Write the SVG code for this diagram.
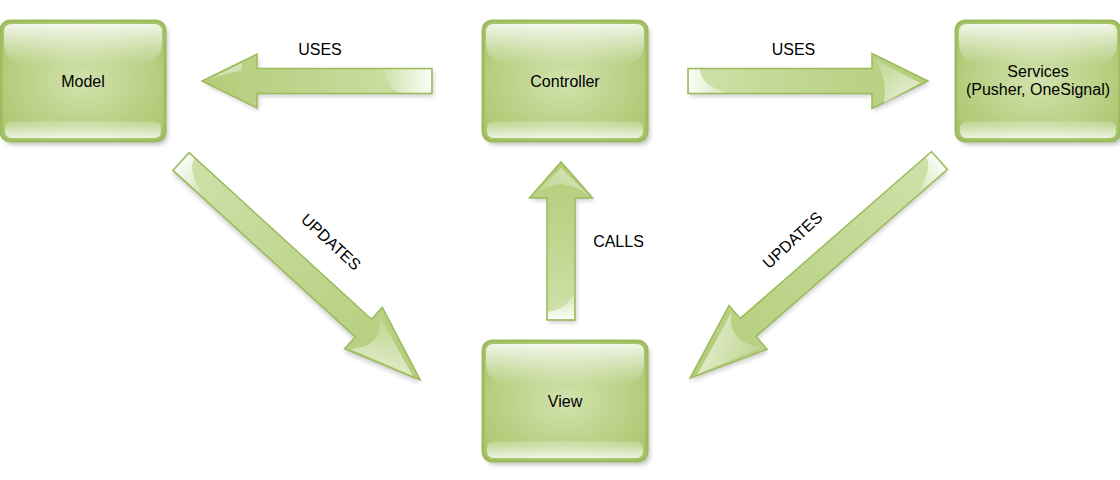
<svg xmlns="http://www.w3.org/2000/svg" xmlns:xlink="http://www.w3.org/1999/xlink" width="1120" height="480" viewBox="0 0 1120 480">
<style>
  .lbl { font-family: "Liberation Sans", Arial, sans-serif; font-size: 16px; fill: #000; text-anchor: middle; }
  .arrow { fill: url(#gArrow); stroke: #9bbb59; stroke-width: 1.5; stroke-linejoin: miter; }
  .ashadow { fill: #000; opacity: 0.18; filter: url(#blur); }
</style>
<defs>
  <filter id="blur" x="-20%" y="-20%" width="140%" height="140%">
    <feGaussianBlur stdDeviation="2"/>
  </filter>
  <radialGradient id="gBox" cx="0.5" cy="0.5" r="0.65">
    <stop offset="0" stop-color="#d2e2ad"/>
    <stop offset="1" stop-color="#a9c56b"/>
  </radialGradient>
  <linearGradient id="gTop" x1="0" y1="0" x2="0" y2="1">
    <stop offset="0" stop-color="#ffffff" stop-opacity="0.85"/>
    <stop offset="1" stop-color="#ffffff" stop-opacity="0"/>
  </linearGradient>
  <linearGradient id="gBot" x1="0" y1="0" x2="0" y2="1">
    <stop offset="0" stop-color="#ffffff" stop-opacity="0.15"/>
    <stop offset="1" stop-color="#ffffff" stop-opacity="0.8"/>
  </linearGradient>
  <linearGradient id="gArrow" x1="0" y1="0" x2="1" y2="0">
    <stop offset="0" stop-color="#cfe1ab"/>
    <stop offset="0.5" stop-color="#bfd68f"/>
    <stop offset="1" stop-color="#b3cd7a"/>
  </linearGradient>
  <linearGradient id="gTail" x1="0" y1="0" x2="1" y2="0">
    <stop offset="0" stop-color="#ffffff" stop-opacity="0.9"/>
    <stop offset="1" stop-color="#ffffff" stop-opacity="0.1"/>
  </linearGradient>
  <linearGradient id="gHead" x1="0" y1="0" x2="1" y2="1">
    <stop offset="0" stop-color="#ffffff" stop-opacity="0.1"/>
    <stop offset="1" stop-color="#ffffff" stop-opacity="0.75"/>
  </linearGradient>
  <g id="box">
    <rect x="3" y="4" width="164" height="120" rx="9" fill="#000" opacity="0.22" filter="url(#blur)"/>
    <rect x="0" y="0" width="164" height="120" rx="9" fill="url(#gBox)" stroke="#9dbb5f" stroke-width="3"/>
    <path d="M3,11 Q3,3 11,3 H153 Q161,3 161,11 V20 Q161,44 138,44 H26 Q3,44 3,20 Z" fill="url(#gTop)"/>
    <path d="M4,108 Q4,100 12,100 H152 Q160,100 160,108 V110 Q160,117 153,117 H11 Q4,117 4,110 Z" fill="url(#gBot)"/>
  </g>
</defs>

<g id="connectors">
  <!-- Controller -> Model USES -->
  <g id="arrow-uses-model" transform="translate(432,81) rotate(180)">
    <path class="ashadow" transform="translate(-2,-3)" d="M0,-12.5 H175 V-27 L230,0 L175,27 V12.5 H0 Z"/>
    <path class="arrow" d="M0,-12.5 H175 V-27 L230,0 L175,27 V12.5 H0 Z"/>
    <path d="M1,-11.5 H30 Q44,-11.5 48,11.5 H1 Z" fill="url(#gTail)"/>
    <path d="M190,18 L222,2 Q205,8 190,10 Z" fill="url(#gHead)"/>
  </g>
  <!-- Controller -> Services USES -->
  <g id="arrow-uses-services" transform="translate(688,81)">
    <path class="ashadow" transform="translate(2,3)" d="M0,-12.5 H184 V-27.5 L240,0 L184,27.5 V12.5 H0 Z"/>
    <path class="arrow" d="M0,-12.5 H184 V-27.5 L240,0 L184,27.5 V12.5 H0 Z"/>
    <path d="M1,-11.5 H12 Q14,8 45,11.5 H1 Z" fill="url(#gTail)"/>
    <path d="M186,-22 Q200,-5 196,22 L232,2 Z" fill="url(#gHead)"/>
  </g>
  <!-- View -> Controller CALLS -->
  <g id="arrow-calls" transform="translate(561,320) rotate(-90)">
    <path class="ashadow" transform="translate(-3,2)" d="M0,-14 H122 V-31.5 L158,0 L122,31.5 V14 H0 Z"/>
    <path class="arrow" d="M0,-14 H122 V-31.5 L158,0 L122,31.5 V14 H0 Z"/>
    <path d="M1,13 H28 Q12,8 8,-13 H1 Z" fill="url(#gTail)"/>
    <path d="M124,-28 Q135,-15 136,0 Q135,15 124,28 L152,0 Z" fill="url(#gHead)" opacity="0.7"/>
  </g>
  <!-- Model -> View UPDATES -->
  <g id="arrow-updates-left" transform="translate(181,161.5) rotate(42.4)">
    <path class="ashadow" transform="translate(2,3)" d="M0,-12 H247 V-28 L324,0 L247,28 V12 H0 Z"/>
    <path class="arrow" d="M0,-12 H247 V-28 L324,0 L247,28 V12 H0 Z"/>
    <path d="M1,-11 H8 Q10,2 40,11 H1 Z" fill="url(#gTail)"/>
    <path d="M250,-20 Q275,-2 252,24 L316,2 Z" fill="url(#gHead)"/>
  </g>
  <!-- Services -> View UPDATES -->
  <g id="arrow-updates-right" transform="translate(939.5,160.5) rotate(138.9)">
    <path class="ashadow" transform="translate(2,-3)" d="M0,-12 H254 V-29 L331,0 L254,29 V12 H0 Z"/>
    <path class="arrow" d="M0,-12 H254 V-29 L331,0 L254,29 V12 H0 Z"/>
    <path d="M1,11 H8 Q10,-2 40,-11 H1 Z" fill="url(#gTail)"/>
    <path d="M257,22 Q280,2 257,-24 L323,-2 Z" fill="url(#gHead)"/>
  </g>
  <text class="lbl" x="320" y="55">USES</text>
  <text class="lbl" x="793.5" y="55">USES</text>
  <text class="lbl" x="618.5" y="247">CALLS</text>
  <text class="lbl" transform="translate(331,242) rotate(43)" x="0" y="5.5">UPDATES</text>
  <text class="lbl" transform="translate(792.5,240) rotate(-43)" x="0" y="5.5">UPDATES</text>
</g>

<g id="node-model" transform="translate(1,21)">
  <use xlink:href="#box" href="#box"/>
  <text class="lbl" x="82" y="66">Model</text>
</g>
<g id="node-controller" transform="translate(483,21)">
  <use xlink:href="#box" href="#box"/>
  <text class="lbl" x="82" y="66">Controller</text>
</g>
<g id="node-services" transform="translate(956,21)">
  <use xlink:href="#box" href="#box"/>
  <text class="lbl" x="82" y="56">Services</text>
  <text class="lbl" x="82" y="74">(Pusher, OneSignal)</text>
</g>
<g id="node-view" transform="translate(483,341)">
  <use xlink:href="#box" href="#box"/>
  <text class="lbl" x="82" y="66">View</text>
</g>
</svg>
